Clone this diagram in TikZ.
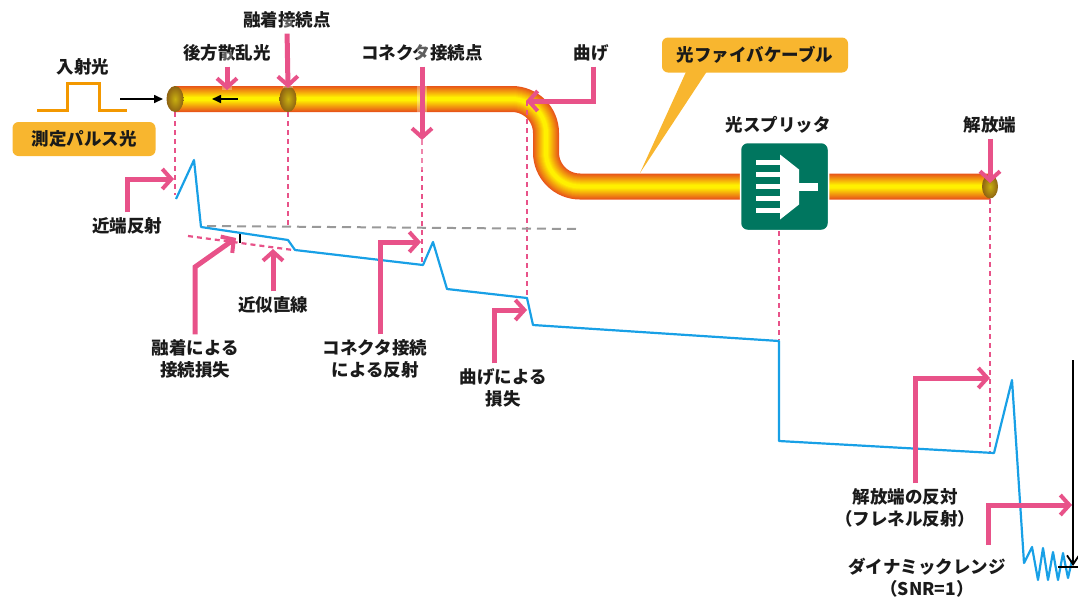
\documentclass[tikz,border=0pt]{standalone}
\usepackage{fontspec}
\setmainfont{Noto Sans CJK JP}
\usetikzlibrary{arrows.meta}
\definecolor{pk}{HTML}{E85289}
\definecolor{orB}{HTML}{F8B62F}
\definecolor{orP}{HTML}{F39800}
\definecolor{fibO}{HTML}{E8561A}
\definecolor{fibY}{HTML}{FFF000}
\definecolor{endY}{HTML}{C8B010}
\definecolor{endB}{HTML}{8E6212}
\definecolor{grn}{HTML}{00765F}
\definecolor{otdr}{HTML}{18A0E6}
\definecolor{txt}{HTML}{1A1A1A}

\begin{document}
\begin{tikzpicture}[x=1pt,y=-1pt,
  lbl/.style={font=\fontsize{17.5}{22}\selectfont\bfseries,text=txt,inner sep=0pt,align=center},
  tagbox/.style={lbl,fill=orB,rounded corners=6pt,minimum height=34pt},
  ptr/.style={draw=pk,line width=5pt,-{Straight Barb[length=9pt,width=20pt,line width=4pt]},shorten <=5pt},
  halo/.style={draw=white,opacity=.3,line width=10pt},
  guide/.style={draw=pk,line width=2.2pt,dash pattern=on 5pt off 4pt},
  trace/.style={draw=otdr,line width=2.2pt,line join=round},
  face/.style={inner color=endY,outer color=endB},
  splitbox/.style={fill=grn,draw=white,line width=1.5pt,rounded corners=7pt,minimum width=88pt,minimum height=88pt},
  blk/.style={draw=black,line width=1.6pt,-{Triangle[length=9pt,width=8pt]}}]
\useasboundingbox (0,0) rectangle (1078,598);

% fiber with S bend
\foreach \i [evaluate=\i as \w using 26-2*\i, evaluate=\i as \p using int(100*\i/11)] in {0,...,11}
  \draw[line width=\w pt,fibY!\p!fibO,rounded corners=34pt] (175,99) -- (546,99) -- (546,186.5) -- (990,186.5);

\shade[face] (175,99) ellipse [x radius=8.5pt,y radius=13pt];
\shade[face] (288,99) ellipse [x radius=8.5pt,y radius=13pt];
\shade[face] (990,186.5) ellipse [x radius=8pt,y radius=12pt];

% splitter
\node[splitbox] (spl) at (784.5,186.5) {};
\begin{scope}[shift={(spl.center)}]
  \foreach \b in {-24,-12,0,12,24}
    \fill[white] (-28.5,\b-2.75) rectangle (-3,\b+2.75);
  \fill[white] (-4.5,-32) -- (14.5,-17) -- (14.5,18) -- (-4.5,33) -- cycle;
  \fill[white] (14,-4) rectangle (33.5,4);
\end{scope}

% input pulse
\draw[orP,line width=3pt] (37,110) -- (67,110) -- (67,83) -- (99,83) -- (99,110) -- (127,110);
\node[lbl] (nyu) at (83,67) {入射光};
\node[tagbox,minimum width=143pt] (pls) at (84,139) {測定パルス光};
\coordinate (inS) at (120,99);
\coordinate (inT) at (163,99);
\draw[blk] (inS) -- (inT);
\coordinate (bkS) at (238,99);
\coordinate (bkT) at (212,99);
\draw[blk] (bkS) -- (bkT);

% cable callout
\node[tagbox,minimum width=186pt,minimum height=35pt] (cable) at (755,55) {光ファイバケーブル};
\coordinate (cabT) at (640,173);
\fill[orB] ([xshift=-68pt,yshift=3pt]cable.south) -- (cabT) -- ([xshift=-47pt,yshift=3pt]cable.south) -- cycle;

% vertical guides
\draw[guide] (175,112) -- (175,195);
\draw[guide] (288,112) -- (288,226);
\draw[guide] (422,140) -- (422,262);
\draw[guide] (527,101) -- (527,296);
\draw[guide] (779,231) -- (779,340);
\draw[guide] (990,199) -- (990,452);
\draw[gray!80,line width=2pt,dash pattern=on 9pt off 6pt] (207,226) -- (578,229);
\draw[guide] (188,236) -- (293,250);
\draw[black,line width=1.8pt] (240,233) -- (240,243);

% OTDR trace
\draw[trace] (176,199) -- (194,160) -- (201,227) -- (288,240) -- (295,250) -- (423,265)
  -- (433,242) -- (447,289) -- (527,298) -- (533,325) -- (779,341) -- (779,441)
  -- (994,453) -- (1012,380) -- (1024,563) -- (1032,547) -- (1038,580) -- (1043,548)
  -- (1048,580) -- (1053,552) -- (1058,580) -- (1063,553) -- (1068,578) -- (1072,560);

% dynamic range
\coordinate (drTop) at (1073,360);
\coordinate (drBot) at (1073,566);
\draw[line width=2pt,-{Straight Barb[length=9pt,width=12pt,line width=1.8pt]}] (drTop) -- (drBot);
\coordinate (flL) at (1058,567);
\coordinate (flR) at (1078,567);
\draw[line width=1.6pt] (flL) -- (flR);

% labels above the fiber
\node[lbl] (bsc) at (227,53) {後方散乱光};
\node[lbl] (fus) at (287,20) {融着接続点};
\node[lbl] (con) at (422,53) {コネクタ接続点};
\node[lbl] (bnd) at (591,53) {曲げ};
\node[lbl] (spt) at (778,125) {光スプリッタ};
\node[lbl] (opn) at (990,125) {解放端};
\coordinate (bscT) at (227,90);
\coordinate (fusT) at (288,88);
\coordinate (conT) at (422,140);
\coordinate (bndT) at (526,101);
\coordinate (opnT) at (990,183);
\draw[halo] ([yshift=10pt]bsc.south) -- (bscT);
\draw[halo] ([yshift=10pt]fus.south) -- (fusT);
\draw[halo] ([yshift=24pt]con.south) -- ([yshift=-30pt]conT);
\draw[ptr] (bsc.south) -- (bscT);
\draw[ptr] (fus.south) -- (fusT);
\draw[ptr] (con.south) -- (conT);
\draw[ptr] ([xshift=2pt]bnd.south) |- (bndT);
\draw[ptr] (opn.south) -- (opnT);

% labels below the trace
\node[lbl] (nea) at (127,226) {近端反射};
\node[lbl] (fsl) at (195,359) {融着による\\接続損失};
\node[lbl] (apx) at (273,305) {近似直線};
\node[lbl] (cnr) at (375,359) {コネクタ接続\\による反射};
\node[lbl] (bnl) at (503,388) {曲げによる\\損失};
\node[lbl] (frs) at (905,508) {解放端の反対\\（フレネル反射）};
\node[lbl] (dyn) at (927,578) {ダイナミックレンジ\\（SNR=1）};
\coordinate (neaT) at (174,179);
\coordinate (fslK) at (195,267);
\coordinate (fslT) at (236,238);
\coordinate (apxT) at (273,249);
\coordinate (cnrT) at (421,242);
\coordinate (bnlT) at (527,310);
\coordinate (frsT) at (990,378);
\coordinate (dynK) at (988,545);
\coordinate (dynT) at (1072,505);
\draw[ptr] (nea.north) |- (neaT);
\draw[ptr] (fsl.north) -- (fslK) -- (fslT);
\draw[ptr] (apx.north) -- (apxT);
\draw[ptr] ([xshift=5pt]cnr.north) |- (cnrT);
\draw[ptr] ([xshift=-9pt]bnl.north) |- (bnlT);
\draw[ptr] ([xshift=10pt]frs.north) |- (frsT);
\draw[ptr,shorten <=0pt] (dynK) |- (dynT);
\end{tikzpicture}
\end{document}
